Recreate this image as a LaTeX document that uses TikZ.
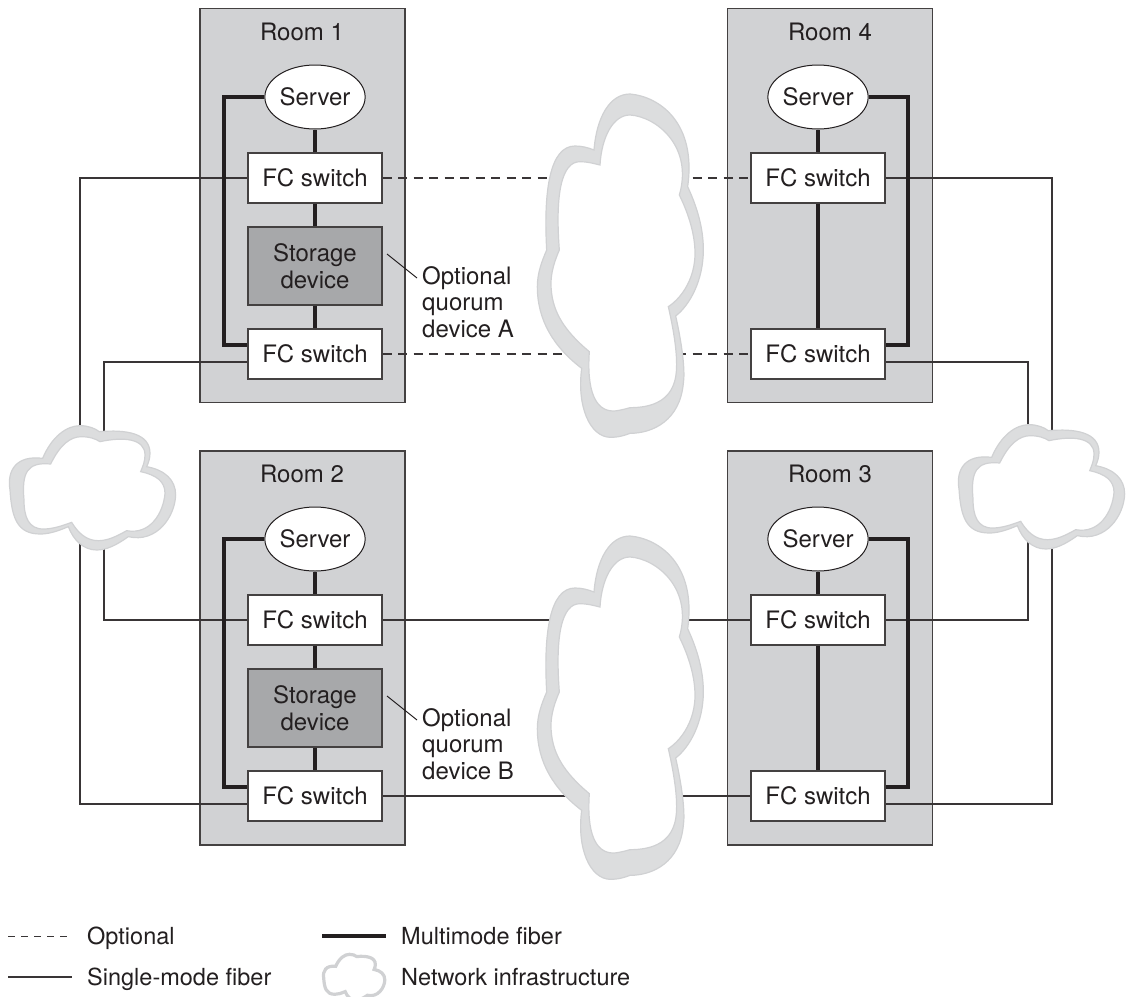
\documentclass[tikz,border=0pt]{standalone}
\usepackage{fontspec}
\setmainfont{TeX Gyre Heros}
\definecolor{roomfill}{HTML}{D1D2D4}
\definecolor{storefill}{HTML}{A7A8AA}
\definecolor{cloudfill}{HTML}{DCDDDE}
\definecolor{cloudedge}{HTML}{D0D1D3}
\definecolor{ink}{HTML}{231F20}
\newcommand\bigcloudO{(222,210) .. controls (230,110) and (270,42) .. (330,42) .. controls (420,50) and (530,130) .. (503,320) .. controls (540,400) and (550,460) .. (550,510) .. controls (550,600) and (510,675) .. (467,708) .. controls (490,810) and (495,880) .. (490,910) .. controls (480,1020) and (400,1060) .. (330,1060) .. controls (300,1072) and (280,1072) .. (270,1072) .. controls (210,1070) and (170,980) .. (185,865) .. controls (100,800) and (52,720) .. (52,620) .. controls (52,580) and (65,545) .. (80,510) .. controls (70,330) and (90,198) .. (165,198) .. controls (185,198) and (205,203) .. (222,210) -- cycle}
\newcommand\bigcloudI{(240,255) .. controls (245,170) and (280,105) .. (330,105) .. controls (410,110) and (520,200) .. (478,345) .. controls (510,410) and (525,470) .. (525,520) .. controls (525,590) and (490,650) .. (445,680) .. controls (470,790) and (475,860) .. (465,900) .. controls (450,960) and (400,983) .. (330,983) .. controls (305,990) and (290,993) .. (280,993) .. controls (225,993) and (200,930) .. (208,815) .. controls (130,750) and (93,690) .. (93,610) .. controls (93,575) and (105,540) .. (118,510) .. controls (105,340) and (125,245) .. (180,245) .. controls (200,245) and (220,250) .. (240,255) -- cycle}
\newcommand\smallcloudO{(128,385) .. controls (155,320) and (200,287) .. (240,287) .. controls (265,287) and (285,295) .. (298,305) .. controls (380,298) and (450,310) .. (450,370) .. controls (450,385) and (445,400) .. (440,410) .. controls (495,420) and (527,450) .. (527,495) .. controls (525,560) and (470,640) .. (385,620) .. controls (350,645) and (320,660) .. (290,660) .. controls (250,660) and (220,630) .. (205,590) .. controls (170,605) and (145,612) .. (120,612) .. controls (50,612) and (35,560) .. (30,480) .. controls (20,420) and (50,375) .. (128,385) -- cycle}
\newcommand\smallcloudI{(152,402) .. controls (180,345) and (210,320) .. (245,320) .. controls (265,320) and (285,325) .. (300,335) .. controls (370,320) and (435,325) .. (435,375) .. controls (435,395) and (428,410) .. (422,425) .. controls (470,435) and (495,455) .. (495,490) .. controls (490,550) and (450,615) .. (380,602) .. controls (345,622) and (320,632) .. (295,632) .. controls (260,632) and (235,610) .. (215,577) .. controls (180,590) and (155,597) .. (130,597) .. controls (85,597) and (72,560) .. (72,510) .. controls (65,430) and (80,395) .. (152,402) -- cycle}
\tikzset{
  room/.style={draw=ink!85,line width=1.3pt,fill=roomfill,minimum width=205pt,minimum height=394pt,inner sep=0pt},
  fcbox/.style={draw=ink!85,line width=1.1pt,fill=white,minimum width=134pt,minimum height=50pt,inner sep=0pt,text=ink},
  storebox/.style={draw=ink!85,line width=1.1pt,fill=storefill,minimum width=134pt,minimum height=78pt,inner sep=0pt,text=ink,align=center},
  srv/.style={draw=ink,line width=1pt,fill=white,ellipse,minimum width=100pt,minimum height=64pt,inner sep=0pt,text=ink},
  lbl/.style={inner sep=0pt,anchor=base,text=ink},
  lbll/.style={inner sep=0pt,anchor=base west,text=ink},
  leg/.style={inner sep=0pt,anchor=base west,text=ink,font=\fontsize{23.5}{27}\selectfont},
  thinline/.style={draw=ink!90,line width=1.15pt},
  dashline/.style={draw=ink!90,line width=1.1pt,dash pattern=on 9pt off 6.5pt},
  thickline/.style={draw=ink,line width=4.6pt,line join=miter},
  cloudO/.style={fill=cloudfill,draw=cloudedge,line width=1.2pt,line join=miter},
  cloudI/.style={fill=white,draw=cloudedge,line width=1.2pt,line join=miter}
}
\usetikzlibrary{shapes.geometric}
\begin{document}
\begin{tikzpicture}[x=1pt,y=-1pt,every node/.append style={font=\fontsize{24}{27}\selectfont}]
\path[use as bounding box] (0,0) rectangle (1129,996);
\clip (0,0) rectangle (1129,996);
% rooms
\node[room] (room1) at (302.5,205.5) {};
\node[room] (room2) at (302.5,648) {};
\node[room] (room4) at (830,205.5) {};
\node[room] (room3) at (830,648) {};
\node[lbl] (t1) at (302,40) {Room 1};
\node[lbl] (t2) at (302,482) {Room 2};
\node[lbl] (t4) at (830,40) {Room 4};
\node[lbl] (t3) at (830,482) {Room 3};
% devices
\node[srv] (s1) at (315,97) {Server};
\node[fcbox] (f1a) at (315,178) {FC switch};
\node[storebox] (d1) at (315,266) {Storage\\device};
\node[fcbox] (f1b) at (315,354) {FC switch};
\node[srv] (s2) at (315,539) {Server};
\node[fcbox] (f2a) at (315,620) {FC switch};
\node[storebox] (d2) at (315,708) {Storage\\device};
\node[fcbox] (f2b) at (315,796) {FC switch};
\node[srv] (s4) at (818,97) {Server};
\node[fcbox] (f4a) at (818,178) {FC switch};
\node[fcbox] (f4b) at (818,354) {FC switch};
\node[srv] (s3) at (818,539) {Server};
\node[fcbox] (f3a) at (818,620) {FC switch};
\node[fcbox] (f3b) at (818,796) {FC switch};
% corner coordinates
\coordinate (la) at (80,178); \coordinate (lb) at (80,804);
\coordinate (ma) at (104,362); \coordinate (mb) at (104,620);
\coordinate (ra) at (1052,178); \coordinate (rb) at (1052,804);
\coordinate (na) at (1028,362); \coordinate (nb) at (1028,620);
% thin lines
\draw[thinline] (f1a.west) -- (la) -- (lb) -- ([yshift=-8pt]f2b.west);
\draw[thinline] ([yshift=-8pt]f1b.west) -- (ma) -- (mb) -- (f2a.west);
\draw[thinline] (f4a.east) -- (ra) -- (rb) -- ([yshift=-8pt]f3b.east);
\draw[thinline] ([yshift=-8pt]f4b.east) -- (na) -- (nb) -- (f3a.east);
\draw[dashline] (f1a.east) -- (f4a.west);
\draw[dashline] (f1b.east) -- (f4b.west);
\draw[thinline] (f2a.east) -- (f3a.west);
\draw[thinline] (f2b.east) -- (f3b.west);
% thick lines
\coordinate (c1a) at (224,97); \coordinate (c1b) at (224,345);
\coordinate (c2a) at (224,539); \coordinate (c2b) at (224,787);
\coordinate (c4a) at (908,97); \coordinate (c4b) at (908,345);
\coordinate (c3a) at (908,539); \coordinate (c3b) at (908,787);
\draw[thickline] (s1.west) -- (c1a) -- (c1b) -- ([yshift=9pt]f1b.west);
\draw[thickline] (s2.west) -- (c2a) -- (c2b) -- ([yshift=9pt]f2b.west);
\draw[thickline] (s4.east) -- (c4a) -- (c4b) -- ([yshift=9pt]f4b.east);
\draw[thickline] (s3.east) -- (c3a) -- (c3b) -- ([yshift=9pt]f3b.east);
\draw[thickline] (s1) -- (f1a);
\draw[thickline] (f1a) -- (d1);
\draw[thickline] (d1) -- (f1b);
\draw[thickline] (s2) -- (f2a);
\draw[thickline] (f2a) -- (d2);
\draw[thickline] (d2) -- (f2b);
\draw[thickline] (s4) -- (f4a);
\draw[thickline] (f4a) -- (f4b);
\draw[thickline] (s3) -- (f3a);
\draw[thickline] (f3a) -- (f3b);
% clouds
\begin{scope}[shift={(520,80)},x=.33333pt,y=-.33333pt]
\path[cloudO] \bigcloudO; \path[cloudI] \bigcloudI;
\end{scope}
\begin{scope}[shift={(520,522)},x=.33333pt,y=-.33333pt]
\path[cloudO] \bigcloudO; \path[cloudI] \bigcloudI;
\end{scope}
\begin{scope}[shift={(0,330)},x=.33333pt,y=-.33333pt]
\path[cloudO] \smallcloudO; \path[cloudI] \smallcloudI;
\end{scope}
\begin{scope}[shift={(949,329)},x=.33333pt,y=-.33333pt]
\path[cloudO] \smallcloudO; \path[cloudI] \smallcloudI;
\end{scope}
% annotations
\coordinate (q1a) at (387,254); \coordinate (q1b) at (417,278);
\coordinate (q2a) at (387,696); \coordinate (q2b) at (417,720);
\draw[ink,line width=1pt] (q1a) -- (q1b);
\draw[ink,line width=1pt] (q2a) -- (q2b);
\node[lbll] (o1) at (422,284) {Optional};
\node[lbll] (o2) at (422,310.5) {quorum};
\node[lbll] (o3) at (422,337) {device A};
\node[lbll] (o4) at (422,726) {Optional};
\node[lbll] (o5) at (422,752.5) {quorum};
\node[lbll] (o6) at (422,779) {device B};
% legend
\coordinate (k1a) at (8,936); \coordinate (k1b) at (72,936);
\coordinate (k2a) at (8,977); \coordinate (k2b) at (72,977);
\coordinate (k3a) at (322,936); \coordinate (k3b) at (386,936);
\draw[draw=ink!90,line width=1pt,dash pattern=on 7pt off 6pt] (k1a) -- (k1b);
\draw[thinline] (k2a) -- (k2b);
\draw[thickline] (k3a) -- (k3b);
\begin{scope}[shift={(320,919)},x=.123pt,y=-.123pt]
\path[fill=white,draw=cloudedge,line width=3.2pt,line join=miter] \smallcloudO;
\end{scope}
\node[leg] (k1) at (87,944) {Optional};
\node[leg] (k2) at (87,985) {Single-mode fiber};
\node[leg] (k3) at (401,944) {Multimode fiber};
\node[leg] (k4) at (401,985) {Network infrastructure};
\end{tikzpicture}
\end{document}
